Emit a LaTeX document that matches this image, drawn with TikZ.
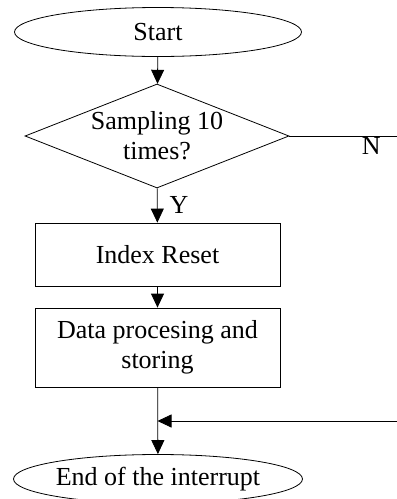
\documentclass[tikz,border=0pt]{standalone}
\usepackage{fontspec}
\setmainfont{Liberation Serif}
\usetikzlibrary{shapes.geometric,arrows.meta}

\tikzset{
	flow/.style={draw, line width=0.8pt, inner sep=0pt, align=center, font=\fontsize{26}{30}\selectfont},
	term/.style={flow, ellipse, minimum width=287pt, minimum height=49pt},
	test/.style={flow, diamond, aspect=2.54, minimum width=264pt, minimum height=104pt},
	proc/.style={flow, rectangle, minimum width=245pt},
	tag/.style={font=\fontsize{26}{30}\selectfont},
	link/.style={line width=0.8pt, -{Triangle[length=14pt,width=13pt]}}
}

\begin{document}
\begin{tikzpicture}[x=1pt, y=-1pt]
	\useasboundingbox (0,0) rectangle (397,499);
	\node[name=start, term]                         at (158,32)    {Start};
	\node[name=check, test]                         at (157,136)   {Sampling 10\\times?};
	\node[name=reset, proc, minimum height=63pt]    at (157.5,254.5) {Index Reset};
	\node[name=store, proc, minimum height=79pt]    at (157.5,347.5) {Data procesing and\\storing};
	\node[name=stop, term]                          at (158,479)   {End of the interrupt};
	\coordinate (nout) at (397,136);
	\coordinate (back) at (397,421);
	\coordinate (join) at (store.south |- back);
	% main path
	\draw[link] (start) -- (check);
	\draw[link] (check) -- node[tag, right, inner sep=12pt] {Y} (reset);
	\draw[link] (reset) -- (store);
	\draw[link] (store) -- (stop);
	% no branch
	\draw[line width=0.8pt] (check.east) -- node[tag, pos=0.76, below, inner sep=1pt] {N} (nout);
	\draw[link] (back) -- (join);
\end{tikzpicture}
\end{document}
